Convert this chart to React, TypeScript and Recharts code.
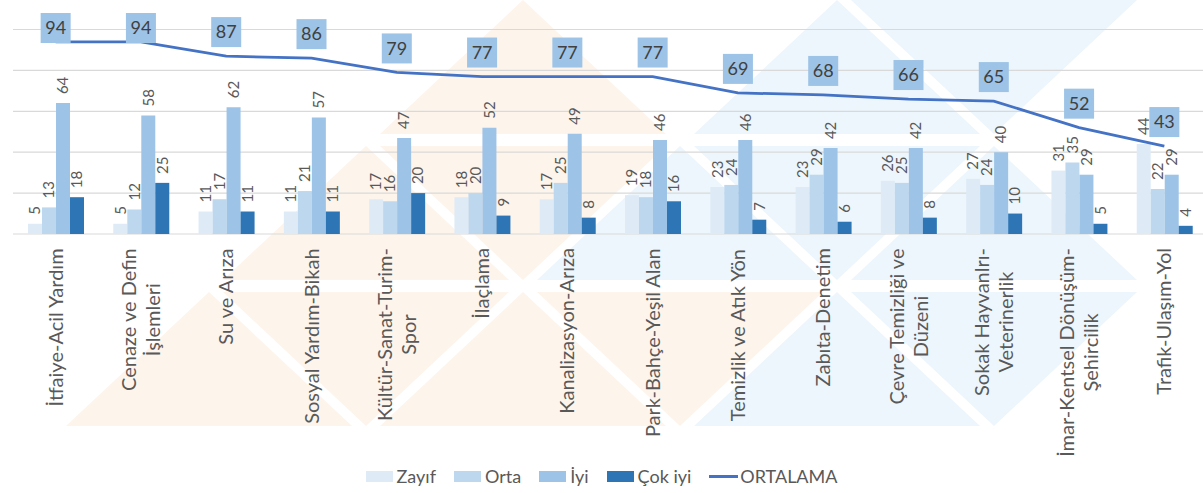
import { ComposedChart, Bar, Line, XAxis, YAxis, CartesianGrid, LabelList, Legend } from "recharts"

const categories = [
  "İtfaiye-Acil Yardım",
  "Cenaze ve Defin\nİşlemleri",
  "Su ve Arıza",
  "Sosyal Yardım-Bikah",
  "Kültür-Sanat-Turim-\nSpor",
  "İlaçlama",
  "Kanalizasyon-Arıza",
  "Park-Bahçe-Yeşil Alan",
  "Temizlik ve Atık Yön",
  "Zabıta-Denetim",
  "Çevre Temizliği ve\nDüzeni",
  "Sokak Hayvanlrı-\nVeterinerlik",
  "İmar-Kentsel Dönüşüm-\nŞehircilik",
  "Trafik-Ulaşım-Yol",
]
const zayif = [5, 5, 11, 11, 17, 18, 17, 19, 23, 23, 26, 27, 31, 44]
const orta = [13, 12, 17, 21, 16, 20, 25, 18, 24, 29, 25, 24, 35, 22]
const iyi = [64, 58, 62, 57, 47, 52, 49, 46, 46, 42, 42, 40, 29, 29]
const cokIyi = [18, 25, 11, 11, 20, 9, 8, 16, 7, 6, 8, 10, 5, 4]
const ortalama = [94, 94, 87, 86, 79, 77, 77, 77, 69, 68, 66, 65, 52, 43]
const yTicks = [0, 10, 20, 30, 40, 50, 60, 70, 80, 90, 100]

const data = categories.map((name, i) => ({
  name, zayif: zayif[i], orta: orta[i], iyi: iyi[i], cokIyi: cokIyi[i], ortalama: ortalama[i],
}))

const FONT = "Lato, 'Open Sans', sans-serif"
const TEXT = "#595959"
const C = { zayif: "#deebf7", orta: "#bdd7ee", iyi: "#9dc3e6", cokIyi: "#2e75b6", line: "#4472c4" }

// faint logo watermark behind the plot: [row, apex x, pointing up?, colour]
const WM_ORANGE = "#fdf4ec"
const WM_BLUE = "#edf6fc"
const watermark: [number, number, boolean, string][] = [
  [0, 523, true, WM_ORANGE], [0, 837, true, WM_BLUE], [0, 994, false, WM_BLUE],
  [1, 366, true, WM_ORANGE], [1, 523, false, WM_ORANGE], [1, 680, true, WM_BLUE], [1, 837, false, WM_BLUE], [1, 994, true, WM_BLUE],
  [2, 209, true, WM_ORANGE], [2, 366, false, WM_ORANGE], [2, 523, true, WM_ORANGE], [2, 680, false, WM_ORANGE],
  [2, 837, true, WM_BLUE], [2, 994, false, WM_BLUE],
]

function Watermark() {
  const rowH = 146, triH = 134, half = 143
  return (
    <svg width={1203} height={493} style={{ position: "absolute", left: 0, top: 0 }}>
      {watermark.map(([r, a, up, col], i) => {
        const t = r * rowH, b = t + triH
        const pts = up ? `${a},${t} ${a - half},${b} ${a + half},${b}` : `${a - half},${t} ${a + half},${t} ${a},${b}`
        return <polygon key={i} points={pts} fill={col} />
      })}
    </svg>
  )
}

const ctx = typeof document !== "undefined" ? document.createElement("canvas").getContext("2d") : null
const textWidth = (t: string, font: string) => {
  if (!ctx) return t.length * 9
  ctx.font = font
  return ctx.measureText(t).width
}

// rotated, wrapped category label; block top sits just under the axis
function CategoryTick({ x, y, payload }: any) {
  const lines = String(payload.value).split("\n")
  const w = Math.max(...lines.map((l) => textWidth(l, `20px ${FONT}`)))
  const lh = 24
  return (
    <g transform={`translate(${x},${y + w / 2}) rotate(-90)`}>
      <text textAnchor="middle" fill={TEXT} style={{ fontFamily: FONT, fontSize: 20 }}>
        {lines.map((l, i) => (
          <tspan key={i} x={0} y={(i - (lines.length - 1) / 2) * lh} dy="0.35em">{l}</tspan>
        ))}
      </text>
    </g>
  )
}

function BarValue({ x, y, width, value }: any) {
  return (
    <text transform={`translate(${x + width / 2},${y - 9}) rotate(-90)`} dy="0.35em" textAnchor="start"
      fill={TEXT} style={{ fontFamily: FONT, fontSize: 15 }}>
      {value}
    </text>
  )
}

function BoxValue({ x, y, value }: any) {
  const top = Math.max(13, y - 39)
  return (
    <g>
      <rect x={x - 15} y={top} width={30} height={30} fill={C.iyi} />
      <text x={x} y={top + 15} dy="0.35em" textAnchor="middle" fill="#404040"
        style={{ fontFamily: FONT, fontSize: 18 }}>
        {value}
      </text>
    </g>
  )
}

const legendItems = [
  { label: "Zayıf", color: C.zayif },
  { label: "Orta", color: C.orta },
  { label: "İyi", color: C.iyi },
  { label: "Çok iyi", color: C.cokIyi },
]

function ChartLegend() {
  return (
    <div style={{ display: "flex", justifyContent: "center", alignItems: "center", gap: 18,
      fontFamily: FONT, fontSize: 18, color: TEXT, lineHeight: "22px" }}>
      {legendItems.map((it) => (
        <span key={it.label} style={{ display: "flex", alignItems: "center", gap: 4 }}>
          <span style={{ width: 27, height: 11, background: it.color, display: "inline-block" }} />
          {it.label}
        </span>
      ))}
      <span style={{ display: "flex", alignItems: "center", gap: 2 }}>
        <span style={{ width: 29, height: 3, background: C.line, display: "inline-block" }} />
        ORTALAMA
      </span>
    </div>
  )
}

export default function App() {
  return (
    <div style={{ position: "absolute", left: 0, top: 0, width: 1203, height: 493, overflow: "hidden", background: "#fff" }}>
      <Watermark />
      <div style={{ position: "absolute", left: 0, top: 0 }}>
        <ComposedChart width={1215} height={493} data={data}
          margin={{ top: 29.5, right: 8, left: 13, bottom: 0 }} barGap={0}>
          <CartesianGrid vertical={false} stroke="#d9d9d9" strokeWidth={1.2} />
          <XAxis dataKey="name" interval={0} height={259} tickLine={false} axisLine={false}
            tickSize={0} tickMargin={14} tick={<CategoryTick />} />
          <YAxis hide domain={[0, 100]} ticks={yTicks} />
          <Legend verticalAlign="middle" align="center" wrapperStyle={{ top: 465, left: 0, width: 1203 }}
            content={() => <ChartLegend />} />
          <Bar dataKey="zayif" name="Zayıf" fill={C.zayif} barSize={14} isAnimationActive={false}>
            <LabelList dataKey="zayif" content={<BarValue />} />
          </Bar>
          <Bar dataKey="orta" name="Orta" fill={C.orta} barSize={14} isAnimationActive={false}>
            <LabelList dataKey="orta" content={<BarValue />} />
          </Bar>
          <Bar dataKey="iyi" name="İyi" fill={C.iyi} barSize={14} isAnimationActive={false}>
            <LabelList dataKey="iyi" content={<BarValue />} />
          </Bar>
          <Bar dataKey="cokIyi" name="Çok iyi" fill={C.cokIyi} barSize={14} isAnimationActive={false}>
            <LabelList dataKey="cokIyi" content={<BarValue />} />
          </Bar>
          <Line dataKey="ortalama" name="ORTALAMA" type="linear" stroke={C.line} strokeWidth={2.75}
            dot={false} activeDot={false} isAnimationActive={false}>
            <LabelList dataKey="ortalama" content={<BoxValue />} />
          </Line>
        </ComposedChart>
      </div>
    </div>
  )
}
